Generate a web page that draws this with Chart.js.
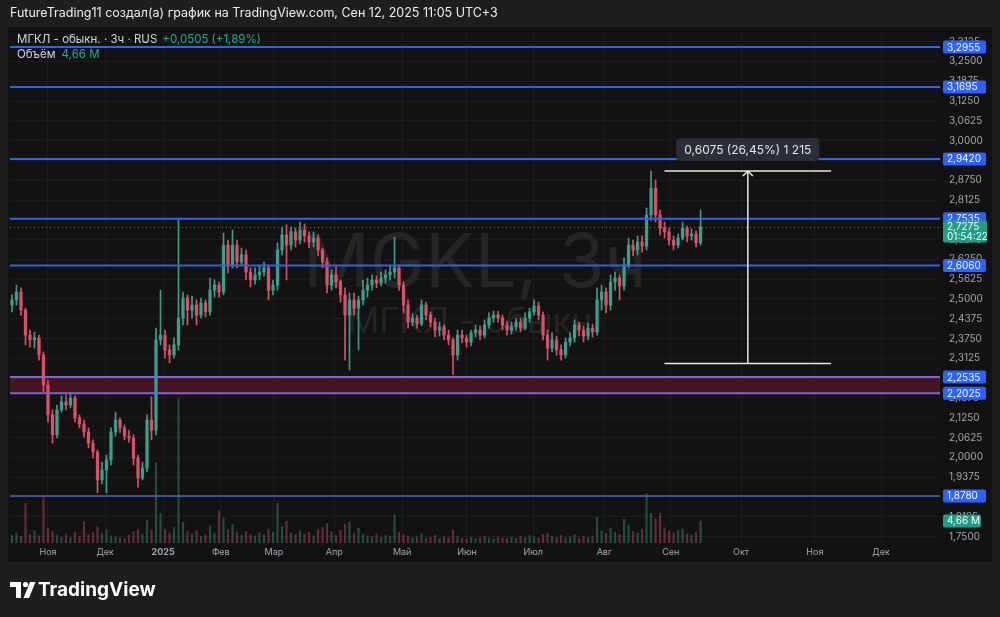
<!DOCTYPE html>
<html>
<head>
<meta charset="utf-8">
<script src="https://cdn.jsdelivr.net/npm/chart.js"></script>
<style>
  html, body { margin: 0; padding: 0; background: #1e1e1e; }
  canvas { display: block; }
</style>
</head>
<body>
<canvas id="myChart" width="1000" height="617"></canvas>
<script>
// MGKL 3h candles (one candle here ~ 1.5 trading days)
const opens = [2.481,2.497,2.522,2.465,2.386,2.371,2.377,2.323,2.228,2.134,
  2.071,2.150,2.175,2.165,2.187,2.124,2.105,2.080,2.045,2.017,
  1.929,1.960,1.992,2.080,2.118,2.093,2.067,2.061,1.998,1.935,
  1.966,2.118,2.086,2.371,2.386,2.339,2.323,2.355,2.440,2.503,
  2.465,2.481,2.449,2.487,2.459,2.528,2.544,2.522,2.670,2.607,
  2.670,2.617,2.639,2.585,2.560,2.576,2.585,2.598,2.528,2.544,
  2.655,2.702,2.670,2.712,2.686,2.718,2.699,2.680,2.692,2.655,
  2.617,2.544,2.576,2.554,2.513,2.449,2.497,2.471,2.497,2.528,
  2.544,2.560,2.550,2.566,2.576,2.585,2.598,2.544,2.481,2.427,
  2.440,2.421,2.481,2.449,2.427,2.402,2.412,2.386,2.371,2.323,
  2.386,2.377,2.364,2.393,2.402,2.386,2.418,2.440,2.449,2.440,
  2.418,2.402,2.412,2.427,2.408,2.440,2.459,2.478,2.449,2.386,
  2.345,2.371,2.339,2.323,2.364,2.377,2.418,2.402,2.383,2.408,
  2.396,2.497,2.522,2.481,2.554,2.566,2.541,2.607,2.670,2.655,
  2.680,2.667,2.765,2.850,2.765,2.724,2.712,2.686,2.670,2.692,
  2.724,2.699,2.705,2.677];
const highs = [2.513,2.544,2.535,2.471,2.402,2.396,2.386,2.333,2.244,2.150,
  2.165,2.194,2.197,2.206,2.194,2.134,2.118,2.093,2.055,2.023,
  1.985,2.007,2.093,2.143,2.124,2.102,2.086,2.071,2.007,1.985,
  2.134,2.191,2.408,2.528,2.402,2.355,2.377,2.749,2.522,2.513,
  2.509,2.497,2.503,2.497,2.566,2.560,2.554,2.708,2.686,2.718,
  2.686,2.661,2.655,2.598,2.598,2.604,2.617,2.607,2.560,2.677,
  2.727,2.734,2.727,2.724,2.743,2.737,2.712,2.712,2.702,2.661,
  2.629,2.592,2.601,2.560,2.535,2.519,2.519,2.509,2.560,2.566,
  2.576,2.573,2.585,2.592,2.604,2.696,2.607,2.554,2.497,2.453,
  2.449,2.497,2.490,2.459,2.440,2.427,2.418,2.402,2.377,2.402,
  2.402,2.386,2.402,2.418,2.415,2.434,2.456,2.462,2.462,2.449,
  2.430,2.427,2.440,2.440,2.456,2.471,2.497,2.490,2.459,2.402,
  2.393,2.383,2.355,2.377,2.393,2.434,2.427,2.415,2.424,2.421,
  2.535,2.544,2.535,2.576,2.585,2.576,2.629,2.692,2.686,2.699,
  2.699,2.787,2.904,2.876,2.781,2.743,2.724,2.699,2.705,2.743,
  2.730,2.721,2.715,2.781];
const lows = [2.459,2.481,2.449,2.355,2.348,2.345,2.307,2.206,2.112,2.045,
  2.061,2.143,2.150,2.156,2.112,2.093,2.064,2.030,1.998,1.888,
  1.916,1.888,1.976,2.067,2.077,2.055,2.048,1.976,1.906,1.929,
  1.954,2.055,2.071,2.355,2.314,2.298,2.314,2.339,2.418,2.418,
  2.440,2.418,2.440,2.443,2.449,2.506,2.506,2.513,2.582,2.598,
  2.598,2.607,2.560,2.538,2.547,2.560,2.573,2.497,2.513,2.528,
  2.639,2.560,2.655,2.664,2.674,2.680,2.661,2.664,2.636,2.598,
  2.519,2.528,2.535,2.490,2.307,2.276,2.449,2.339,2.481,2.506,
  2.528,2.535,2.541,2.550,2.560,2.566,2.528,2.456,2.408,2.415,
  2.408,2.415,2.434,2.412,2.380,2.383,2.371,2.355,2.262,2.307,
  2.361,2.348,2.352,2.380,2.371,2.377,2.408,2.427,2.427,2.402,
  2.386,2.389,2.402,2.396,2.402,2.427,2.449,2.434,2.371,2.307,
  2.333,2.323,2.307,2.314,2.352,2.364,2.383,2.364,2.371,2.380,
  2.386,2.465,2.456,2.465,2.528,2.497,2.528,2.598,2.636,2.639,
  2.648,2.655,2.749,2.743,2.702,2.692,2.670,2.655,2.661,2.686,
  2.680,2.686,2.664,2.670];
const closes = [2.497,2.522,2.465,2.386,2.371,2.377,2.323,2.228,2.134,2.071,
  2.150,2.175,2.165,2.187,2.124,2.105,2.080,2.045,2.017,1.929,
  1.960,1.992,2.080,2.118,2.093,2.067,2.061,1.998,1.935,1.966,
  2.118,2.086,2.371,2.386,2.339,2.323,2.355,2.440,2.503,2.465,
  2.481,2.449,2.487,2.459,2.528,2.544,2.522,2.670,2.607,2.670,
  2.617,2.639,2.585,2.560,2.576,2.585,2.598,2.528,2.544,2.655,
  2.702,2.670,2.712,2.686,2.718,2.699,2.680,2.692,2.655,2.617,
  2.544,2.576,2.554,2.513,2.449,2.497,2.471,2.497,2.528,2.544,
  2.560,2.550,2.566,2.576,2.585,2.598,2.544,2.481,2.427,2.440,
  2.421,2.481,2.449,2.427,2.402,2.412,2.386,2.371,2.323,2.386,
  2.377,2.364,2.393,2.402,2.386,2.418,2.440,2.449,2.440,2.418,
  2.402,2.412,2.427,2.408,2.440,2.459,2.478,2.449,2.386,2.345,
  2.371,2.339,2.323,2.364,2.377,2.418,2.402,2.383,2.408,2.396,
  2.497,2.522,2.481,2.554,2.566,2.541,2.607,2.670,2.655,2.680,
  2.667,2.765,2.850,2.765,2.724,2.712,2.686,2.670,2.692,2.724,
  2.699,2.705,2.677,2.7275];
// volume, millions
const volumes = [1.6,2.1,1.4,8.4,1.8,2.6,1.5,9.6,3.2,2.4,
  1.7,1.2,1.9,1.1,2.3,1.4,4.5,1.8,2.2,3.4,
  2.0,2.8,1.5,1.3,1.1,0.9,1.6,2.4,2.9,1.8,
  4.8,2.7,17.0,6.2,2.9,2.1,3.3,30.5,4.4,2.5,
  1.9,2.6,1.4,1.7,3.6,2.0,6.8,5.2,2.8,3.9,
  2.2,1.6,2.4,1.8,1.5,2.1,1.7,2.9,2.3,8.4,
  3.5,4.6,2.1,1.8,2.6,1.9,2.3,1.5,2.8,3.3,
  4.1,2.4,1.6,2.7,3.9,4.4,2.0,3.1,1.8,1.5,
  1.3,1.9,1.2,1.6,1.4,6.0,2.2,1.8,1.5,1.1,
  1.3,1.9,1.0,1.2,1.6,0.9,1.3,1.1,2.7,1.5,
  1.0,0.8,1.2,0.9,1.1,1.4,1.0,0.8,1.3,1.1,
  0.9,1.2,1.0,1.4,1.1,1.6,1.3,1.0,1.8,2.1,
  1.4,1.2,1.6,1.1,1.3,1.8,1.0,1.4,1.2,1.5,
  5.4,2.6,2.0,3.1,2.2,1.8,5.0,3.8,2.4,2.1,
  2.9,10.5,6.3,5.1,6.3,3.2,2.5,2.1,2.7,3.0,
  1.9,1.6,2.3,4.66];

// month labels and where they fall on the bar index axis
const monthLabels = ["Ноя","Дек","2025","Фев","Мар","Апр","Май","Июн","Июл","Авг","Сен","Окт","Ноя","Дек"];
const monthPos = [8, 20.7, 33.6, 46.4, 58.2, 71.6, 86.7, 101.1, 115.8, 131.6, 146.4, 162, 178.4, 193.1];
const priceTicks = [1.75,1.8125,1.875,1.9375,2.0,2.0625,2.125,2.1875,2.25,2.3125,2.375,2.4375,2.5,
  2.5625,2.625,2.6875,2.75,2.8125,2.875,2.9375,3.0,3.0625,3.125,3.1875,3.25,3.3125];

// drawn horizontal levels and the zone between two of them
const levels = [3.2955, 3.1695, 2.9420, 2.7535, 2.6060, 2.2535, 2.2025, 1.8780];
const zone = [2.2025, 2.2535];
const lastPrice = 2.7275;
const lastVolume = 4.66;
// price range measure: from/to price and bar span
const measureLow = 2.2965;
const measureHigh = 2.904;
const measureBars = [145, 182];

const UP = "#3a9f8c";
const DOWN = "#dc5066";
const FONT = "Inter, 'Noto Sans', sans-serif";
Chart.defaults.font.family = FONT;

const isUp = opens.map((o, i) => closes[i] >= o);

const fmt = (v) => v.toFixed(4).replace(".", ",");

const wickData = highs.map((h, i) => ({ x: i, y: [lows[i], h] }));
const bodyData = opens.map((o, i) => ({ x: i, y: [o, closes[i]] }));
const volData = volumes.map((v, i) => ({ x: i, y: v }));

function roundBox(ctx, x, y, w, h, r, color) {
  ctx.fillStyle = color;
  ctx.beginPath();
  ctx.roundRect(x, y, w, h, r);
  ctx.fill();
}

const backdrop = {
  id: "backdrop",
  beforeDraw(chart) {
    const ctx = chart.ctx;
    ctx.save();
    ctx.fillStyle = "#1e1e1e";
    ctx.fillRect(0, 0, chart.width, chart.height);
    ctx.fillStyle = "#121212";
    ctx.fillRect(8, 27, 984, 535);
    ctx.restore();
  },
  beforeDatasetsDraw(chart) {
    const ctx = chart.ctx;
    const a = chart.chartArea;
    const y = chart.scales.y;
    ctx.save();
    // watermark
    ctx.fillStyle = "#252525";
    ctx.textAlign = "center";
    ctx.textBaseline = "middle";
    ctx.font = "74px " + FONT;
    ctx.fillText("MGKL, 3ч", (a.left + a.right) / 2, 265);
    ctx.font = "35px " + FONT;
    ctx.fillText("МГКЛ - обыкн.", (a.left + a.right) / 2, 322);
    // zone fill
    const zt = y.getPixelForValue(zone[1]);
    const zb = y.getPixelForValue(zone[0]);
    ctx.fillStyle = "rgba(105, 22, 42, 0.6)";
    ctx.fillRect(a.left, zt, a.right - a.left, zb - zt);
    ctx.restore();
  },
  afterDatasetsDraw(chart) {
    const ctx = chart.ctx;
    const a = chart.chartArea;
    const x = chart.scales.x;
    const y = chart.scales.y;
    ctx.save();

    // current price dotted line
    const lp = Math.round(y.getPixelForValue(lastPrice)) + 0.5;
    ctx.strokeStyle = "#22ab94";
    ctx.lineWidth = 1;
    ctx.setLineDash([1, 3]);
    ctx.beginPath();
    ctx.moveTo(a.left, lp);
    ctx.lineTo(a.right, lp);
    ctx.stroke();
    ctx.setLineDash([]);

    // horizontal levels
    levels.forEach((v) => {
      const py = y.getPixelForValue(v);
      const inZone = v === zone[0] || v === zone[1];
      ctx.strokeStyle = inZone ? "#7466f0" : v === 1.878 ? "#4a62d8" : "#2f62f0";
      ctx.lineWidth = v === 1.878 ? 1.3 : 2;
      ctx.beginPath();
      ctx.moveTo(a.left, py);
      ctx.lineTo(a.right, py);
      ctx.stroke();
    });

    // measure tool
    const mx1 = x.getPixelForValue(measureBars[0]);
    const mx2 = x.getPixelForValue(measureBars[1]);
    const mxc = (mx1 + mx2) / 2;
    const myT = y.getPixelForValue(measureHigh);
    const myB = y.getPixelForValue(measureLow);
    ctx.strokeStyle = "#e6e6e6";
    ctx.lineWidth = 1.5;
    ctx.beginPath();
    ctx.moveTo(mx1, myT); ctx.lineTo(mx2, myT);
    ctx.moveTo(mx1, myB); ctx.lineTo(mx2, myB);
    ctx.moveTo(mxc, myB); ctx.lineTo(mxc, myT);
    ctx.moveTo(mxc - 5, myT + 5); ctx.lineTo(mxc, myT); ctx.lineTo(mxc + 5, myT + 5);
    ctx.stroke();
    const diff = measureHigh - measureLow;
    const pct = (diff / measureLow * 100).toFixed(2).replace(".", ",");
    const mText = fmt(diff) + " (" + pct + "%) 1 215";
    ctx.font = "12px " + FONT;
    const tw = ctx.measureText(mText).width;
    roundBox(ctx, mxc - tw / 2 - 8, myT - 33, tw + 16, 23, 4, "#2a2e39");
    ctx.fillStyle = "#e1e3ea";
    ctx.textAlign = "center";
    ctx.textBaseline = "middle";
    ctx.fillText(mText, mxc, myT - 21);

    // price scale labels
    ctx.font = "10px " + FONT;
    ctx.textAlign = "left";
    levels.forEach((v) => {
      const py = y.getPixelForValue(v);
      roundBox(ctx, a.right + 3, py - 6.5, 43, 13, 2, "#2962ff");
      ctx.fillStyle = "#ffffff";
      ctx.fillText(fmt(v), a.right + 7, py + 0.5);
    });
    const lpy = y.getPixelForValue(lastPrice);
    roundBox(ctx, a.right + 3, lpy - 6.5, 44, 22, 2, "#1f9e86");
    ctx.fillStyle = "#ffffff";
    ctx.fillText(fmt(lastPrice), a.right + 7, lpy + 0.5);
    ctx.fillText("01:54:22", a.right + 7, lpy + 10);
    const vpy = chart.scales.vol.getPixelForValue(lastVolume);
    roundBox(ctx, a.right + 3, vpy - 6.5, 38, 13, 2, "#1f9e86");
    ctx.fillStyle = "#ffffff";
    ctx.fillText(String(lastVolume).replace(".", ",") + " M", a.right + 7, vpy + 0.5);

    // legend
    ctx.font = "11.5px " + FONT;
    ctx.fillStyle = "#d1d4dc";
    const l1 = "МГКЛ - обыкн. · 3ч · RUS";
    ctx.fillText(l1, 17, 40);
    ctx.fillStyle = "#22ab94";
    const ch = lastPrice - closes[closes.length - 2];
    const chTxt = "+" + fmt(ch) + " (+" + (ch / closes[closes.length - 2] * 100).toFixed(2).replace(".", ",") + "%)";
    ctx.fillText(chTxt, 17 + ctx.measureText(l1).width + 5, 40);
    ctx.fillStyle = "#d1d4dc";
    ctx.fillText("Объём", 17, 55);
    ctx.fillStyle = "#22ab94";
    ctx.fillText(String(lastVolume).replace(".", ",") + " M", 17 + ctx.measureText("Объём").width + 6, 55);
    ctx.restore();
  },
  afterDraw(chart) {
    const ctx = chart.ctx;
    ctx.save();
    ctx.fillStyle = "#ececec";
    ctx.font = "12.5px " + FONT;
    ctx.textBaseline = "middle";
    ctx.fillText("FutureTrading11 создал(а) график на TradingView.com, Сен 12, 2025 11:05 UTC+3", 10, 13);
    // logo
    ctx.fillStyle = "#ffffff";
    ctx.beginPath();
    ctx.moveTo(10, 582); ctx.lineTo(21, 582); ctx.lineTo(21, 598); ctx.lineTo(16, 598);
    ctx.lineTo(16, 587); ctx.lineTo(10, 587); ctx.closePath(); ctx.fill();
    ctx.beginPath(); ctx.arc(25.5, 584.5, 2.6, 0, Math.PI * 2); ctx.fill();
    ctx.beginPath();
    ctx.moveTo(30, 582); ctx.lineTo(35.5, 582); ctx.lineTo(29, 598); ctx.lineTo(23.5, 598);
    ctx.closePath(); ctx.fill();
    ctx.font = "bold 19px " + FONT;
    ctx.fillText("TradingView", 38, 590);
    ctx.restore();
  }
};

new Chart(document.getElementById("myChart"), {
  type: "bar",
  data: {
    datasets: [
      {
        data: volData,
        yAxisID: "vol",
        grouped: false,
        barThickness: 1.5,
        backgroundColor: isUp.map((u) => (u ? "rgba(58,159,140,0.42)" : "rgba(220,80,102,0.42)")),
        order: 3,
      },
      {
        data: wickData,
        yAxisID: "y",
        grouped: false,
        barThickness: 1,
        backgroundColor: isUp.map((u) => (u ? UP : DOWN)),
        order: 2,
      },
      {
        data: bodyData,
        yAxisID: "y",
        grouped: false,
        barThickness: 2.6,
        backgroundColor: isUp.map((u) => (u ? UP : DOWN)),
        order: 1,
      },
    ],
  },
  options: {
    responsive: false,
    animation: false,
    events: [],
    layout: { padding: { left: 10, top: 32, right: 8, bottom: 55 } },
    plugins: { legend: { display: false }, tooltip: { enabled: false } },
    scales: {
      x: {
        type: "linear",
        offset: false,
        min: -0.44,
        max: 206.2,
        border: { display: false },
        grid: { color: "rgba(255,255,255,0.045)", drawTicks: false, offset: false },
        afterBuildTicks: (scale) => {
          scale.ticks = monthPos.map((v) => ({ value: v }));
        },
        afterFit: (scale) => {
          scale.height = 19;
        },
        ticks: {
          autoSkip: false,
          maxRotation: 0,
          padding: 4,
          color: "#a3a6af",
          font: (c) => (c.tick && c.index === 2 ? { size: 9, weight: "bold" } : { size: 9 }),
          callback: (v, i) => monthLabels[i],
        },
      },
      y: {
        position: "right",
        min: 1.7296,
        max: 3.3429,
        border: { display: false },
        grid: { color: "rgba(255,255,255,0.045)", drawTicks: false },
        afterBuildTicks: (scale) => {
          scale.ticks = priceTicks.map((v) => ({ value: v }));
        },
        afterFit: (scale) => {
          scale.width = 52;
        },
        ticks: {
          padding: 9,
          color: "#a3a6af",
          font: { size: 10 },
          callback: (v) => fmt(v),
        },
      },
      vol: {
        display: false,
        min: 0,
        max: 108,
      },
    },
  },
  plugins: [backdrop],
});
</script>
</body>
</html>
